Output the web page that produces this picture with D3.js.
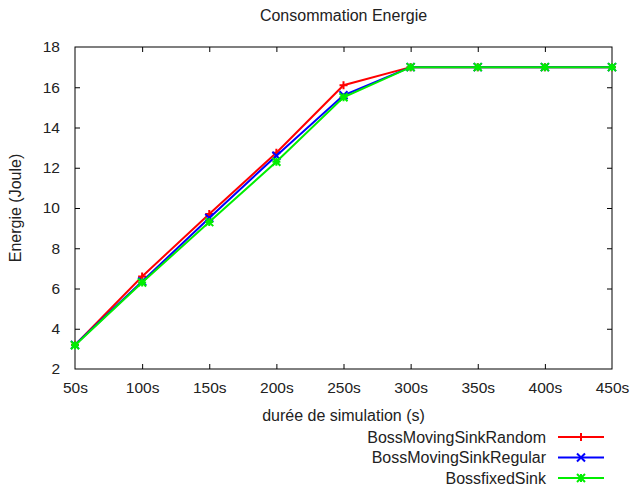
<!DOCTYPE html>
<html>
<head>
<meta charset="utf-8">
<script src="https://cdn.jsdelivr.net/npm/d3@7"></script>
<style>
  body { margin: 0; background: #fff; }
  text { font-family: "Liberation Sans", Arial, sans-serif; fill: #222; }
</style>
</head>
<body>
<div id="chart"></div>
<script>
// Données
const durees = [50, 100, 150, 200, 250, 300, 350, 400, 450];
const yTicks = [2, 4, 6, 8, 10, 12, 14, 16, 18];
const random = [3.2, 6.6, 9.7, 12.75, 16.1, 17.0, 17.0, 17.0, 17.0];
const regular = [3.2, 6.35, 9.5, 12.6, 15.6, 17.0, 17.0, 17.0, 17.0];
const fixedSink = [3.18, 6.3, 9.3, 12.3, 15.5, 17.0, 17.0, 17.0, 17.0];

const series = [
  { name: "BossMovingSinkRandom", values: random, color: "#ff0000", marker: "plus" },
  { name: "BossMovingSinkRegular", values: regular, color: "#0000ff", marker: "cross" },
  { name: "BossfixedSink", values: fixedSink, color: "#00ee00", marker: "star" }
];

const WIDTH = 630, HEIGHT = 491;
const margin = { top: 47, right: 18, bottom: 122, left: 75 };

const svg = d3.select("#chart").append("svg")
  .attr("width", WIDTH)
  .attr("height", HEIGHT);

const x = d3.scaleLinear().domain([50, 450]).range([margin.left, WIDTH - margin.right]);
const y = d3.scaleLinear().domain([2, 18]).range([HEIGHT - margin.bottom, margin.top]);

// Cadre
svg.append("rect")
  .attr("x", x(50)).attr("y", y(18))
  .attr("width", x(450) - x(50)).attr("height", y(2) - y(18))
  .attr("fill", "none").attr("stroke", "#000").attr("stroke-width", 1);

// Axes (ticks vers l'intérieur, miroir)
const axisStyle = g => {
  g.select(".domain").remove();
  g.selectAll(".tick line").attr("stroke", "#000");
  g.selectAll(".tick text").style("font-family", "Liberation Sans, Arial, sans-serif").style("font-size", "15.5px").attr("fill", "#222");
};

svg.append("g")
  .attr("transform", `translate(0,${y(2)})`)
  .call(d3.axisBottom(x).tickValues(durees).tickSizeInner(-5).tickPadding(13).tickFormat(d => d + "s"))
  .call(axisStyle);

svg.append("g")
  .attr("transform", `translate(0,${y(18)})`)
  .call(d3.axisTop(x).tickValues(durees).tickSizeInner(-5).tickFormat(""))
  .call(axisStyle);

svg.append("g")
  .attr("transform", `translate(${x(50)},0)`)
  .call(d3.axisLeft(y).tickValues(yTicks).tickSizeInner(-5).tickPadding(15))
  .call(axisStyle);

svg.append("g")
  .attr("transform", `translate(${x(450)},0)`)
  .call(d3.axisRight(y).tickValues(yTicks).tickSizeInner(-5).tickFormat(""))
  .call(axisStyle);

// Ne pas dessiner les ticks sur les coins
svg.selectAll(".tick").filter(d => d === 50 || d === 450 || d === 2 || d === 18).select("line").remove();

// Titres
svg.append("text")
  .attr("x", (x(50) + x(450)) / 2).attr("y", 21)
  .attr("text-anchor", "middle").style("font-size", "16px")
  .text("Consommation Energie");

svg.append("text")
  .attr("x", (x(50) + x(450)) / 2).attr("y", 421)
  .attr("text-anchor", "middle").style("font-size", "16px")
  .text("durée de simulation (s)");

svg.append("text")
  .attr("transform", `translate(21,${(y(2) + y(18)) / 2}) rotate(-90)`)
  .attr("text-anchor", "middle").style("font-size", "16px")
  .text("Energie (Joule)");

// Marqueurs
function markerPath(type, s) {
  const p = d3.path();
  if (type === "plus" || type === "star") {
    p.moveTo(-s, 0); p.lineTo(s, 0);
    p.moveTo(0, -s); p.lineTo(0, s);
  }
  if (type === "cross" || type === "star") {
    p.moveTo(-s, -s); p.lineTo(s, s);
    p.moveTo(-s, s); p.lineTo(s, -s);
  }
  return p.toString();
}

const line = d3.line().x((d, i) => x(durees[i])).y(d => y(d));

series.forEach(s => {
  const g = svg.append("g");
  g.append("path")
    .datum(s.values)
    .attr("d", line)
    .attr("fill", "none")
    .attr("stroke", s.color)
    .attr("stroke-width", 2);
  g.selectAll("path.mk")
    .data(s.values)
    .join("path")
    .attr("class", "mk")
    .attr("transform", (d, i) => `translate(${x(durees[i])},${y(d)})`)
    .attr("d", markerPath(s.marker, 4))
    .attr("stroke", s.color)
    .attr("stroke-width", 2);
});

// Légende
const legend = svg.append("g");
series.forEach((s, i) => {
  const ly = 437 + i * 20.5;
  legend.append("text")
    .attr("x", 546).attr("y", ly).attr("dy", "0.35em")
    .attr("text-anchor", "end").style("font-size", "16px")
    .text(s.name);
  legend.append("line")
    .attr("x1", 558).attr("x2", 604).attr("y1", ly).attr("y2", ly)
    .attr("stroke", s.color).attr("stroke-width", 2);
  legend.append("path")
    .attr("transform", `translate(581,${ly})`)
    .attr("d", markerPath(s.marker, 4))
    .attr("stroke", s.color).attr("stroke-width", 2);
});
</script>
</body>
</html>
